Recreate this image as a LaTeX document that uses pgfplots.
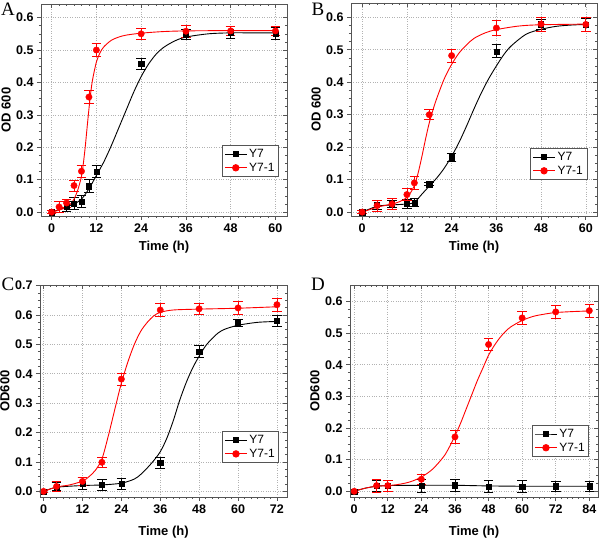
\documentclass[border=0pt]{standalone}
\usepackage{pgfplots}
\pgfplotsset{compat=1.18}
\usepackage{fontspec}
\setmainfont{Liberation Sans}
\newfontfamily\serifletter{Liberation Serif}
\definecolor{ored}{RGB}{255,0,0}
\definecolor{axgray}{RGB}{85,85,85}

\pgfplotsset{
  base/.style={scale only axis, anchor=south west,
    minor x tick num=5, minor y tick num=3,
    major tick length=4pt, minor tick length=2.2pt,
    axis line style={axgray, line width=0.9pt},
    every tick/.style={axgray, line width=0.7pt},
    every minor tick/.style={axgray, line width=0.6pt},
  },
  main/.style={base, tick align=outside, xtick pos=bottom, ytick pos=left,
    grid=major, grid style={dotted, gray!60, line width=0.6pt},
    tick label style={font=\bfseries\fontsize{12.5}{14}\selectfont},
    label style={font=\bfseries\fontsize{13}{15}\selectfont},
    /pgf/number format/assume math mode=true,
    yticklabel style={/pgf/number format/.cd, fixed, fixed zerofill, precision=1},
    xlabel={Time (h)},
    ylabel style={at={(axis description cs:-0.142,0.5)}, anchor=center},
    legend style={draw=axgray, line width=0.6pt, font=\fontsize{12}{14}\selectfont,
      anchor=south east, inner sep=2pt, row sep=0pt},
    legend cell align=left,
    legend image code/.code={\draw[mark repeat=2, mark phase=2] plot coordinates {(0pt,0pt)(11pt,0pt)(22pt,0pt)};},
    error bars/error bar style={line width=0.8pt},
    error bars/error mark options={rotate=90, mark size=4.8pt, line width=0.8pt},
  },
  mirror/.style={base, tick align=inside, xtick pos=top, ytick pos=right, xticklabels={}, yticklabels={}},
  blk/.style={forget plot, black, only marks, mark=square*, mark size=2.6pt, error bars/.cd, y dir=both, y explicit},
  rd/.style={forget plot, ored, only marks, mark=*, mark size=3.2pt, error bars/.cd, y dir=both, y explicit},
  blkc/.style={black, line width=0.9pt, smooth, no marks, forget plot},
  rdc/.style={ored, line width=0.9pt, smooth, no marks, forget plot},
  pA/.style={at={(41pt,325pt)}, width=246pt, height=212pt, xmin=-2.85, xmax=63.1, ymin=-0.012, ymax=0.642,
    xtick={0,12,24,36,48,60}, ytick={0,0.1,0.2,0.3,0.4,0.5,0.6}},
  pB/.style={at={(351pt,325pt)}, width=246pt, height=213pt, xmin=-3, xmax=63, ymin=-0.012, ymax=0.644,
    xtick={0,12,24,36,48,60}, ytick={0,0.1,0.2,0.3,0.4,0.5,0.6}},
  pC/.style={at={(40pt,44pt)}, width=247pt, height=212pt, xmin=-1.1, xmax=75.1, ymin=-0.019, ymax=0.702,
    xtick={0,12,24,36,48,60,72}, ytick={0,0.1,0.2,0.3,0.4,0.5,0.6,0.7}},
  pD/.style={at={(350pt,44pt)}, width=248pt, height=212pt, xmin=-1.5, xmax=87.1, ymin=-0.018, ymax=0.652,
    xtick={0,12,24,36,48,60,72,84}, ytick={0,0.1,0.2,0.3,0.4,0.5,0.6}},
}

\begin{document}
\begin{tikzpicture}
\useasboundingbox (0,0) rectangle (600pt,541pt);

% ---------------- Panel A ----------------
\begin{axis}[main, pA, ylabel={OD 600},
  xlabel style={at={(axis description cs:0.5,-0.146)}, anchor=center},
  legend style={at={(0.967,0.184)}}]
\addlegendimage{black, line width=0.9pt, mark=square*, mark size=2.6pt}
\addlegendentry{Y7}
\addlegendimage{ored, line width=0.9pt, mark=*, mark size=3.2pt}
\addlegendentry{Y7-1}
\addplot[blkc] coordinates {(0,0)(2,0.008)(4,0.017)(6,0.025)(8,0.04)(10,0.072)(12,0.113)(14,0.155)(16,0.205)(18,0.26)(20,0.315)(22,0.37)(24,0.418)(26,0.457)(28,0.487)(30,0.508)(33,0.528)(36,0.54)(42,0.55)(48,0.553)(54,0.553)(60,0.553)};
\addplot[blk] coordinates {(0,0)+-(0,0.005)(4,0.017)+-(0,0.015)(6,0.027)+-(0,0.018)(8,0.033)+-(0,0.018)(10,0.08)+-(0,0.02)(12,0.125)+-(0,0.018)(24,0.457)+-(0,0.016)(36,0.549)+-(0,0.015)(48,0.555)+-(0,0.018)(60,0.551)+-(0,0.018)};
\addplot[rdc] coordinates {(0,0)(2,0.006)(4,0.015)(5,0.024)(6,0.04)(7,0.068)(8,0.11)(8.5,0.15)(9,0.2)(9.5,0.26)(10,0.318)(10.5,0.37)(11,0.41)(12,0.463)(13,0.492)(14,0.51)(16,0.53)(18,0.54)(20,0.546)(24,0.552)(30,0.557)(36,0.559)(48,0.56)(60,0.56)};
\addplot[rd] coordinates {(0,0)+-(0,0.005)(2,0.016)+-(0,0.017)(4,0.028)+-(0,0.012)(6,0.082)+-(0,0.017)(8,0.126)+-(0,0.018)(10,0.355)+-(0,0.02)(12,0.50)+-(0,0.02)(24,0.55)+-(0,0.017)(36,0.558)+-(0,0.018)(48,0.559)+-(0,0.015)(60,0.559)+-(0,0.015)};
\end{axis}
\begin{axis}[mirror, pA]\end{axis}

% ---------------- Panel B ----------------
\begin{axis}[main, pB, ylabel={OD 600},
  xlabel style={at={(axis description cs:0.5,-0.146)}, anchor=center},
  legend style={at={(0.96,0.169)}}]
\addlegendimage{black, line width=0.9pt, mark=square*, mark size=2.6pt}
\addlegendentry{Y7}
\addlegendimage{ored, line width=0.9pt, mark=*, mark size=3.2pt}
\addlegendentry{Y7-1}
\addplot[blkc] coordinates {(0,0)(4,0.018)(8,0.022)(12,0.025)(14,0.03)(16,0.055)(18,0.08)(20,0.105)(22,0.135)(24,0.172)(26,0.215)(28,0.265)(30,0.318)(32,0.368)(34,0.412)(36,0.45)(38,0.485)(40,0.512)(44,0.548)(48,0.563)(52,0.572)(56,0.576)(60,0.578)};
\addplot[blk] coordinates {(0,0)+-(0,0.005)(4,0.022)+-(0,0.015)(8,0.025)+-(0,0.012)(12,0.025)+-(0,0.013)(14,0.03)+-(0,0.012)(18,0.086)+-(0,0.005)(24,0.169)+-(0,0.013)(36,0.495)+-(0,0.02)(48,0.579)+-(0,0.015)(60,0.578)+-(0,0.02)};
\addplot[rdc] coordinates {(0,0)(4,0.015)(8,0.025)(10,0.032)(12,0.045)(13,0.06)(14,0.082)(15,0.12)(16,0.17)(17,0.225)(18,0.275)(19,0.315)(20,0.35)(22,0.41)(24,0.455)(26,0.49)(28,0.515)(30,0.535)(33,0.552)(36,0.562)(42,0.573)(48,0.577)(60,0.579)};
\addplot[rd] coordinates {(0,0)+-(0,0.005)(4,0.02)+-(0,0.017)(8,0.025)+-(0,0.016)(12,0.054)+-(0,0.018)(14,0.09)+-(0,0.02)(18,0.30)+-(0,0.016)(24,0.482)+-(0,0.02)(36,0.567)+-(0,0.022)(48,0.579)+-(0,0.022)(60,0.578)+-(0,0.022)};
\end{axis}
\begin{axis}[mirror, pB]\end{axis}

% ---------------- Panel C ----------------
\begin{axis}[main, pC, ylabel={OD600},
  xlabel style={at={(axis description cs:0.5,-0.165)}, anchor=center},
  legend style={at={(0.968,0.16)}}]
\addlegendimage{black, line width=0.9pt, mark=square*, mark size=2.6pt}
\addlegendentry{Y7}
\addlegendimage{ored, line width=0.9pt, mark=*, mark size=3.2pt}
\addlegendentry{Y7-1}
\addplot[blkc] coordinates {(0,0)(4,0.014)(12,0.02)(18,0.022)(24,0.028)(28,0.042)(30,0.058)(32,0.08)(34,0.105)(36,0.135)(38,0.18)(40,0.24)(42,0.31)(44,0.37)(46,0.42)(48,0.46)(50,0.495)(52,0.52)(54,0.54)(56,0.552)(60,0.565)(66,0.575)(72,0.578)};
\addplot[blk] coordinates {(0,0)+-(0,0.005)(4,0.017)+-(0,0.015)(12,0.026)+-(0,0.02)(18,0.023)+-(0,0.018)(24,0.025)+-(0,0.018)(36,0.097)+-(0,0.02)(48,0.476)+-(0,0.02)(60,0.574)+-(0,0.012)(72,0.58)+-(0,0.02)};
\addplot[rdc] coordinates {(0,0)(4,0.015)(8,0.022)(12,0.035)(14,0.05)(16,0.072)(18,0.11)(20,0.19)(22,0.28)(24,0.368)(26,0.44)(28,0.5)(30,0.545)(32,0.575)(34,0.597)(36,0.609)(40,0.617)(48,0.62)(60,0.623)(72,0.628)};
\addplot[rd] coordinates {(0,0)+-(0,0.005)(4,0.017)+-(0,0.018)(12,0.034)+-(0,0.015)(18,0.099)+-(0,0.016)(24,0.382)+-(0,0.02)(36,0.617)+-(0,0.022)(48,0.621)+-(0,0.018)(60,0.624)+-(0,0.022)(72,0.635)+-(0,0.022)};
\end{axis}
\begin{axis}[mirror, pC]\end{axis}

% ---------------- Panel D ----------------
\begin{axis}[main, pD, ylabel={OD600},
  xlabel style={at={(axis description cs:0.5,-0.165)}, anchor=center},
  legend style={at={(0.964,0.189)}}]
\addlegendimage{black, line width=0.9pt, mark=square*, mark size=2.6pt}
\addlegendentry{Y7}
\addlegendimage{ored, line width=0.9pt, mark=*, mark size=3.2pt}
\addlegendentry{Y7-1}
\addplot[blkc] coordinates {(0,0)(4,0.01)(8,0.016)(12,0.018)(24,0.019)(36,0.019)(48,0.017)(60,0.016)(72,0.016)(84,0.016)};
\addplot[blk] coordinates {(0,0)+-(0,0.005)(8,0.018)+-(0,0.018)(12,0.018)+-(0,0.018)(24,0.017)+-(0,0.02)(36,0.019)+-(0,0.019)(48,0.015)+-(0,0.018)(60,0.015)+-(0,0.018)(72,0.016)+-(0,0.015)(84,0.016)+-(0,0.015)};
\addplot[rdc] coordinates {(0,0)(4,0.01)(8,0.016)(12,0.018)(16,0.022)(20,0.03)(24,0.045)(28,0.07)(32,0.11)(34,0.14)(36,0.175)(38,0.215)(40,0.26)(42,0.305)(44,0.35)(46,0.39)(48,0.43)(50,0.46)(52,0.485)(54,0.505)(56,0.52)(60,0.54)(64,0.553)(68,0.56)(72,0.565)(78,0.568)(84,0.57)};
\addplot[rd] coordinates {(0,0)+-(0,0.005)(8,0.018)+-(0,0.02)(12,0.018)+-(0,0.018)(24,0.038)+-(0,0.015)(36,0.172)+-(0,0.02)(48,0.464)+-(0,0.02)(60,0.548)+-(0,0.02)(72,0.567)+-(0,0.02)(84,0.571)+-(0,0.02)};
\end{axis}
\begin{axis}[mirror, pD]\end{axis}

% panel letters
\node[font=\serifletter\fontsize{19}{20}\selectfont, anchor=center] at (8pt,532pt) {A};
\node[font=\serifletter\fontsize{19}{20}\selectfont, anchor=center] at (318pt,532pt) {B};
\node[font=\serifletter\fontsize{19}{20}\selectfont, anchor=center] at (8pt,257pt) {C};
\node[font=\serifletter\fontsize{19}{20}\selectfont, anchor=center] at (318pt,257pt) {D};
\end{tikzpicture}
\end{document}
